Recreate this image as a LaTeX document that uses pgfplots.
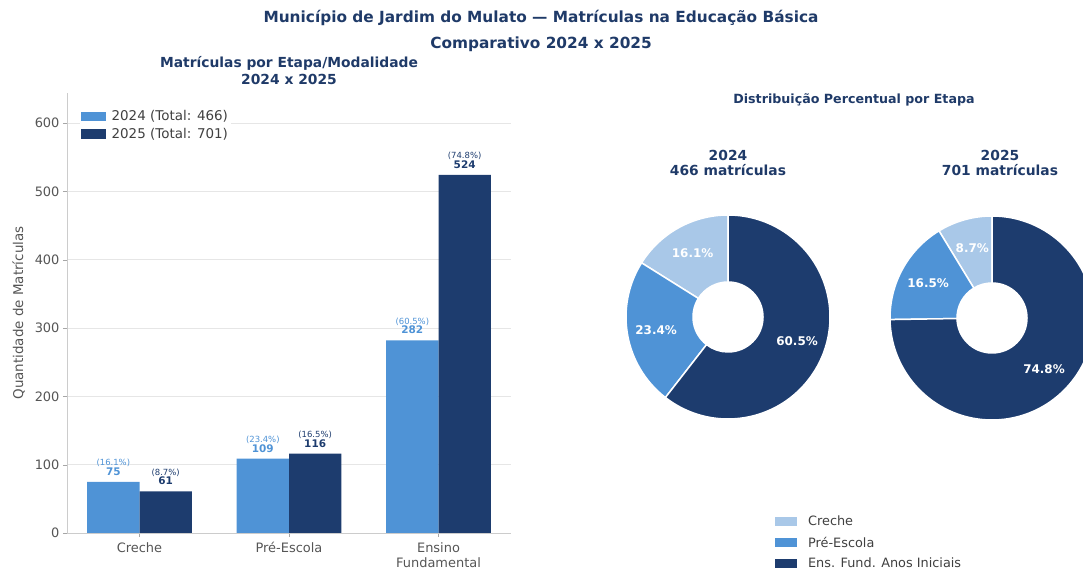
\documentclass[border=0pt]{standalone}
\usepackage{pgfplots}
\pgfplotsset{compat=1.18}
\usepackage{fontspec}
\setmainfont{DejaVu Sans}
\definecolor{cLight}{HTML}{A9C8E8}
\definecolor{cMid}{HTML}{4F93D6}
\definecolor{cDark}{HTML}{1D3C6E}
\definecolor{cTitle}{HTML}{1F3A68}
\definecolor{cGray}{HTML}{555555}
\definecolor{cGrid}{HTML}{E6E6E6}
\pgfplotsset{/pgf/number format/assume math mode=true}

% donut data
\def\crecheA{75}\def\preA{109}\def\fundA{282}
\def\crecheB{61}\def\preB{116}\def\fundB{524}
\pgfmathsetmacro\totA{\crecheA+\preA+\fundA}
\pgfmathsetmacro\totB{\crecheB+\preB+\fundB}
\pgfmathsetmacro\aAone{90+360*(\crecheA/\totA)}
\pgfmathsetmacro\aAtwo{\aAone+360*(\preA/\totA)}
\pgfmathsetmacro\aBone{90+360*(\crecheB/\totB)}
\pgfmathsetmacro\aBtwo{\aBone+360*(\preB/\totB)}
\pgfmathsetmacro\mAone{(90+\aAone)/2}
\pgfmathsetmacro\mAtwo{(\aAone+\aAtwo)/2}
\pgfmathsetmacro\mAthree{(\aAtwo+450)/2}
\pgfmathsetmacro\mBone{(90+\aBone)/2}
\pgfmathsetmacro\mBtwo{(\aBone+\aBtwo)/2}
\pgfmathsetmacro\mBthree{(\aBtwo+450)/2}
\def\Rout{102bp}\def\Rin{35bp}\def\Rlab{73bp}
\newcommand\ring[3]{%
  \fill[#1, draw=white, line width=1.5bp, shift={(axis cs:0,0)}]
    (#2:\Rout) arc[start angle=#2, end angle=#3, radius=\Rout]
    -- (#3:\Rin) arc[start angle=#3, end angle=#2, radius=\Rin] -- cycle;}
\newcommand\ringlabel[2]{%
  \node[text=white, font=\fontsize{12}{12}\selectfont\bfseries, shift={(axis cs:0,0)}] at (#1:\Rlab) {#2};}

\begin{document}
\begin{tikzpicture}[x=1bp, y=1bp]
\begin{axis}[
  at={(67bp,37bp)}, anchor=south west, width=444bp, height=440bp, scale only axis,
  xmin=-0.485, xmax=2.485, ymin=0, ymax=644,
  ybar, bar width=0.35,
  xtick={0,1,2}, xticklabels={Creche,Pré-Escola,{Ensino\\Fundamental}},
  xticklabel style={align=center, text=cGray, font=\fontsize{13}{15.5}\selectfont, yshift=-2bp},
  ytick={0,100,...,600},
  yticklabel style={text=cGray, font=\fontsize{13}{15}\selectfont},
  axis x line*=bottom, axis y line*=left,
  axis line style={black!20},
  ymajorgrids, grid style={cGrid, line width=0.6bp},
  tick style={black!35}, major tick length=4bp, tick align=outside,
  ylabel={Quantidade de Matrículas},
  ylabel style={text=cGray, font=\fontsize{13.5}{15}\selectfont, yshift=3bp},
  legend style={at={(0.028,0.967)}, anchor=north west, draw=none, fill=white,
    font=\fontsize{13.5}{15}\selectfont, text=black!75, row sep=2bp, inner sep=1bp},
  legend cell align=left,
  legend image code/.code={\draw[#1, draw=none] (0bp,-4.5bp) rectangle (25bp,5bp);
    \path[draw=none, fill=none] (0bp,0bp) -- (29bp,0bp);},
  point meta=explicit symbolic,
  nodes near coords={\fontsize{8.5}{8.5}\selectfont(\pgfplotspointmeta\%)\\[-2bp]\fontsize{10.5}{10.5}\selectfont\bfseries\pgfmathprintnumber{\pgfkeysvalueof{/data point/y}}},
  every node near coord/.append style={align=center, inner sep=1bp, yshift=5bp},
]
\addplot[fill=cMid, draw=none, bar shift=-0.175, every node near coord/.append style={text=cMid}]
  coordinates {(0,75)[16.1] (1,109)[23.4] (2,282)[60.5]};
\addplot[fill=cDark, draw=none, bar shift=0.175, every node near coord/.append style={text=cDark}]
  coordinates {(0,61)[8.7] (1,116)[16.5] (2,524)[74.8]};
\legend{2024 (Total: 466), 2025 (Total: 701)}
\end{axis}

% donut 2024
\begin{axis}[at={(626bp,151bp)}, anchor=south west, width=204bp, height=204bp, scale only axis,
  hide axis, xmin=-1, xmax=1, ymin=-1, ymax=1, clip=false,
  legend style={at={(0.730,-0.465)}, anchor=north west, draw=none, fill=none,
    font=\fontsize{12.9}{14}\selectfont, text=black!75, row sep=5.5bp, inner sep=0bp},
  legend cell align=left,
  legend image code/.code={\fill[#1, draw=none] (0bp,-4bp) rectangle (22bp,5bp);
    \path[draw=none, fill=none] (0bp,0bp) -- (31bp,0bp);}]
\addlegendimage{fill=cLight, draw=none}
\addlegendentry{Creche}
\addlegendimage{fill=cMid, draw=none}
\addlegendentry{Pré-Escola}
\addlegendimage{fill=cDark, draw=none}
\addlegendentry{Ens. Fund. Anos Iniciais}
\ring{cLight}{90}{\aAone}
\ring{cMid}{\aAone}{\aAtwo}
\ring{cDark}{\aAtwo}{450}
\ringlabel{\mAone}{16.1\%}
\ringlabel{\mAtwo}{23.4\%}
\ringlabel{\mAthree}{60.5\%}
\end{axis}

% donut 2025
\begin{axis}[at={(890bp,150bp)}, anchor=south west, width=204bp, height=204bp, scale only axis,
  hide axis, xmin=-1, xmax=1, ymin=-1, ymax=1, clip=false]
\ring{cLight}{90}{\aBone}
\ring{cMid}{\aBone}{\aBtwo}
\ring{cDark}{\aBtwo}{450}
\ringlabel{\mBone}{8.7\%}
\ringlabel{\mBtwo}{16.5\%}
\ringlabel{\mBthree}{74.8\%}
\end{axis}

\begin{scope}[text=cTitle]
\node[font=\fontsize{15.4}{17}\selectfont\bfseries] at (541,552) {Município de Jardim do Mulato — Matrículas na Educação Básica};
\node[font=\fontsize{15.4}{17}\selectfont\bfseries] at (541,526) {Comparativo 2024 x 2025};
\node[font=\fontsize{13.9}{15}\selectfont\bfseries] at (289,507) {Matrículas por Etapa/Modalidade};
\node[font=\fontsize{13.9}{15}\selectfont\bfseries] at (289,491) {2024 x 2025};
\node[font=\fontsize{12.7}{14}\selectfont\bfseries] at (854,470) {Distribuição Percentual por Etapa};
\node[font=\fontsize{13.9}{15}\selectfont\bfseries] at (728,415) {2024};
\node[font=\fontsize{13.9}{15}\selectfont\bfseries] at (728,400) {466 matrículas};
\node[font=\fontsize{13.9}{15}\selectfont\bfseries] at (1000,415) {2025};
\node[font=\fontsize{13.9}{15}\selectfont\bfseries] at (1000,400) {701 matrículas};
\end{scope}

\pgfresetboundingbox
\path (0,0) rectangle (1083,570);
\end{tikzpicture}
\end{document}
